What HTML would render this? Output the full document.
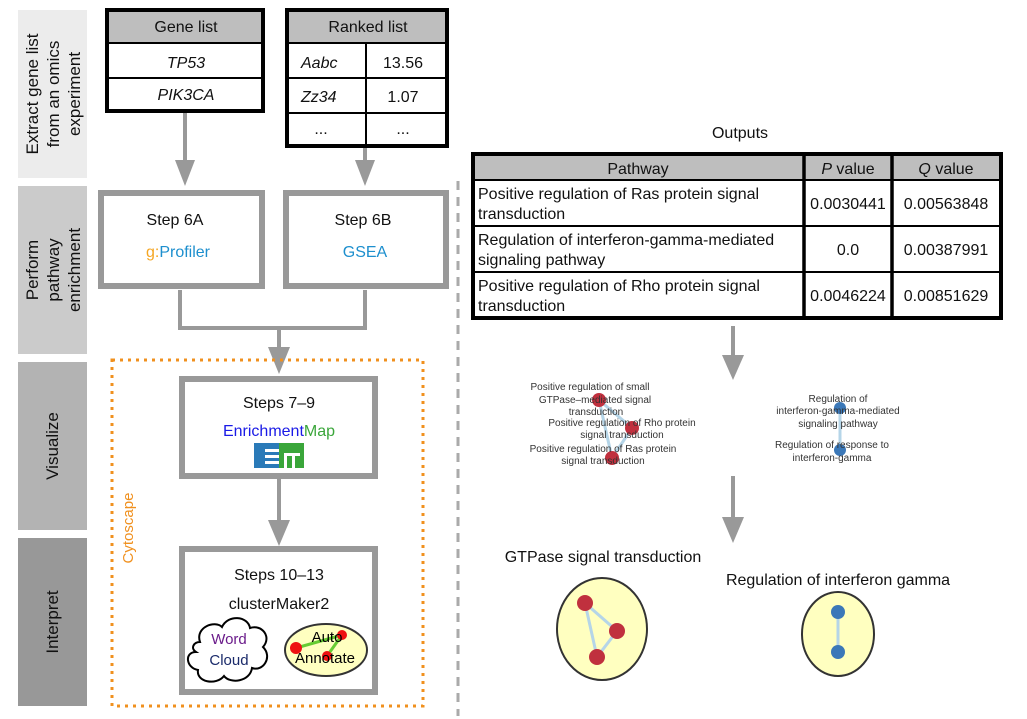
<!DOCTYPE html>
<html><head><meta charset="utf-8"><style>
html,body{margin:0;padding:0;background:#fff}
svg{display:block;font-family:"Liberation Sans",Arial,sans-serif}
</style></head><body>
<svg width="1027" height="719" viewBox="0 0 1027 719" xmlns="http://www.w3.org/2000/svg">
<rect x="18" y="10" width="69" height="168" fill="#ececec"/>
<rect x="18" y="186" width="69" height="168" fill="#cbcbcb"/>
<rect x="18" y="362" width="69" height="168" fill="#b3b3b3"/>
<rect x="18" y="538" width="69" height="168" fill="#989898"/>
<g font-size="17" fill="#111" text-anchor="middle">
<text transform="translate(52,94) rotate(-90)"><tspan x="0" y="-14">Extract gene list</tspan><tspan x="0" y="7">from an omics</tspan><tspan x="0" y="28">experiment</tspan></text>
<text transform="translate(52,270) rotate(-90)"><tspan x="0" y="-14">Perform</tspan><tspan x="0" y="7">pathway</tspan><tspan x="0" y="28">enrichment</tspan></text>
<text transform="translate(58,446) rotate(-90)">Visualize</text>
<text transform="translate(58,622) rotate(-90)">Interpret</text>
</g>
<rect x="107" y="10" width="156" height="101" fill="#fff" stroke="#000" stroke-width="4"/>
<rect x="109" y="12" width="152" height="31" fill="#bebebe"/>
<line x1="109" y1="43" x2="261" y2="43" stroke="#000" stroke-width="2"/>
<line x1="109" y1="78" x2="261" y2="78" stroke="#000" stroke-width="2"/>
<g font-size="16" text-anchor="middle" fill="#111">
<text x="186" y="32">Gene list</text>
<text x="186" y="68" font-style="italic">TP53</text>
<text x="186" y="100" font-style="italic">PIK3CA</text>
</g>
<rect x="287" y="10" width="160" height="136" fill="#fff" stroke="#000" stroke-width="4"/>
<rect x="289" y="12" width="156" height="31" fill="#bebebe"/>
<line x1="289" y1="43" x2="445" y2="43" stroke="#000" stroke-width="2"/>
<line x1="289" y1="78" x2="445" y2="78" stroke="#000" stroke-width="2"/>
<line x1="289" y1="113" x2="445" y2="113" stroke="#000" stroke-width="2"/>
<line x1="366" y1="43" x2="366" y2="146" stroke="#000" stroke-width="2"/>
<g font-size="16" fill="#111">
<text x="368" y="32" text-anchor="middle">Ranked list</text>
<text x="301" y="68" font-style="italic">Aabc</text>
<text x="301" y="102" font-style="italic">Zz34</text>
<text x="321" y="134" text-anchor="middle">...</text>
<text x="403" y="68" text-anchor="middle">13.56</text>
<text x="403" y="102" text-anchor="middle">1.07</text>
<text x="403" y="134" text-anchor="middle">...</text>
</g>
<g stroke="#999" stroke-width="4" fill="none">
<line x1="185" y1="113" x2="185" y2="165"/>
<line x1="365" y1="148" x2="365" y2="165"/>
<polyline points="180,290 180,328 365,328 365,290"/>
<line x1="279" y1="328" x2="279" y2="350"/>
<line x1="279" y1="478" x2="279" y2="525"/>
<line x1="733" y1="326" x2="733" y2="360"/>
<line x1="733" y1="476" x2="733" y2="522"/>
</g>
<g fill="#999">
<polygon points="175,160 195,160 185,186"/>
<polygon points="355,160 375,160 365,186"/>
<polygon points="268,347 290,347 279,374"/>
<polygon points="268,520 290,520 279,546"/>
<polygon points="722,355 744,355 733,380"/>
<polygon points="722,517 744,517 733,543"/>
</g>
<g fill="#fff" stroke="#999" stroke-width="6">
<rect x="101" y="193" width="161" height="93"/>
<rect x="286" y="193" width="160" height="93"/>
<rect x="182" y="379" width="193" height="97"/>
<rect x="182" y="549" width="193" height="143"/>
</g>
<g font-size="16" text-anchor="middle" fill="#111">
<text x="175" y="225">Step 6A</text>
<text x="178" y="257"><tspan fill="#f5a623">g:</tspan><tspan fill="#1d8fce">Profiler</tspan></text>
<text x="363" y="225">Step 6B</text>
<text x="365" y="257" fill="#1d8fce">GSEA</text>
<text x="279" y="408">Steps 7–9</text>
<text x="279" y="436"><tspan fill="#1a1ae6">Enrichment</tspan><tspan fill="#3aa63a">Map</tspan></text>
<text x="279" y="580">Steps 10–13</text>
<text x="279" y="609">clusterMaker2</text>
</g>
<rect x="254" y="443" width="25" height="25" fill="#2a7ab8"/>
<rect x="279" y="443" width="25" height="25" fill="#3aa63a"/>
<g fill="#fff"><rect x="265" y="449" width="14" height="3"/><rect x="265" y="455" width="14" height="3"/><rect x="265" y="461" width="14" height="3"/>
<rect x="284" y="453" width="3" height="15"/><rect x="292" y="453" width="3" height="15"/><rect x="284" y="453" width="16" height="3"/></g>
<g transform="translate(0,12)">
<path d="M200,630 C195,615 215,608 222,615 C228,602 248,604 250,616 C262,612 272,625 263,635 C273,645 263,660 252,656 C250,670 230,672 224,664 C216,674 196,670 198,658 C186,656 184,640 196,640 C190,636 194,630 200,630 Z" fill="#fff" stroke="#000" stroke-width="2"/>
<g font-size="15" text-anchor="middle"><text x="229" y="632" fill="#6a1b8a">Word</text><text x="229" y="653" fill="#1a2a6a">Cloud</text></g>
</g>
<ellipse cx="326" cy="650" rx="41" ry="26" fill="#ffffc0" stroke="#333" stroke-width="2"/>
<g stroke="#6c3" stroke-width="3"><line x1="296" y1="648" x2="342" y2="635"/><line x1="342" y1="635" x2="327" y2="656"/></g>
<g fill="#e11"><circle cx="296" cy="648" r="6"/><circle cx="342" cy="635" r="5"/><circle cx="327" cy="656" r="5"/></g>
<g font-size="15" text-anchor="middle" fill="#000"><text x="327" y="642">Auto</text><text x="325" y="663">Annotate</text></g>
<rect x="112" y="360" width="311" height="346" fill="none" stroke="#f0901e" stroke-width="3" stroke-dasharray="3,5"/>
<text transform="translate(133,528) rotate(-90)" font-size="15" fill="#f0901e" text-anchor="middle">Cytoscape</text>
<line x1="458" y1="181" x2="458" y2="716" stroke="#aaa" stroke-width="3" stroke-dasharray="9,7"/>
<text x="740" y="138" font-size="16" text-anchor="middle" fill="#111">Outputs</text>
<rect x="473" y="154" width="528" height="164" fill="#fff" stroke="#000" stroke-width="4"/>
<rect x="475" y="156" width="524" height="24" fill="#bebebe"/>
<g stroke="#000" stroke-width="2"><line x1="475" y1="180" x2="999" y2="180"/><line x1="475" y1="226" x2="999" y2="226"/><line x1="475" y1="272" x2="999" y2="272"/></g>
<g stroke="#000" stroke-width="3.5"><line x1="804" y1="156" x2="804" y2="316"/><line x1="892" y1="156" x2="892" y2="316"/></g>
<g font-size="16" fill="#111">
<text x="638" y="174" text-anchor="middle">Pathway</text>
<text x="848" y="174" text-anchor="middle"><tspan font-style="italic">P</tspan> value</text>
<text x="946" y="174" text-anchor="middle"><tspan font-style="italic">Q</tspan> value</text>
<text x="478" y="199">Positive regulation of Ras protein signal</text><text x="478" y="219">transduction</text>
<text x="478" y="245">Regulation of interferon-gamma-mediated</text><text x="478" y="265">signaling pathway</text>
<text x="478" y="291">Positive regulation of Rho protein signal</text><text x="478" y="311">transduction</text>
<text x="848" y="209" text-anchor="middle">0.0030441</text><text x="946" y="209" text-anchor="middle">0.00563848</text>
<text x="848" y="255" text-anchor="middle">0.0</text><text x="946" y="255" text-anchor="middle">0.00387991</text>
<text x="848" y="301" text-anchor="middle">0.0046224</text><text x="946" y="301" text-anchor="middle">0.00851629</text>
</g>
<g stroke="#b5d5e8" stroke-width="3" fill="none"><polyline points="599,400 632,428 612,458 599,400"/><line x1="840" y1="408" x2="840" y2="450"/></g>
<g fill="#c0303e"><circle cx="599" cy="400" r="7"/><circle cx="632" cy="428" r="7"/><circle cx="612" cy="458" r="7"/></g>
<g fill="#3b78b8"><circle cx="840" cy="408" r="6"/><circle cx="840" cy="450" r="6"/></g>
<g font-size="10" fill="#333" text-anchor="middle">
<text x="590" y="390">Positive regulation of small</text>
<text x="595" y="403">GTPase–mediated signal</text>
<text x="596" y="415">transduction</text>
<text x="622" y="426">Positive regulation of Rho protein</text>
<text x="622" y="438">signal transduction</text>
<text x="603" y="452">Positive regulation of Ras protein</text>
<text x="603" y="464">signal transduction</text>
<text x="838" y="402">Regulation of</text>
<text x="838" y="414">interferon-gamma-mediated</text>
<text x="838" y="427">signaling pathway</text>
<text x="832" y="448">Regulation of response to</text>
<text x="832" y="461">interferon-gamma</text>
</g>
<g font-size="16" fill="#111" text-anchor="middle"><text x="603" y="562">GTPase signal transduction</text><text x="838" y="585">Regulation of interferon gamma</text></g>
<ellipse cx="602" cy="629" rx="45" ry="51" fill="#ffffc0" stroke="#333" stroke-width="2"/>
<ellipse cx="838" cy="634" rx="36" ry="42" fill="#ffffc0" stroke="#333" stroke-width="2"/>
<g stroke="#b5d5e8" stroke-width="3" fill="none"><polyline points="585,603 617,631 597,657 585,603"/><line x1="838" y1="612" x2="838" y2="652"/></g>
<g fill="#c0303e"><circle cx="585" cy="603" r="8"/><circle cx="617" cy="631" r="8"/><circle cx="597" cy="657" r="8"/></g>
<g fill="#3b78b8"><circle cx="838" cy="612" r="7"/><circle cx="838" cy="652" r="7"/></g>
</svg>
</body></html>
